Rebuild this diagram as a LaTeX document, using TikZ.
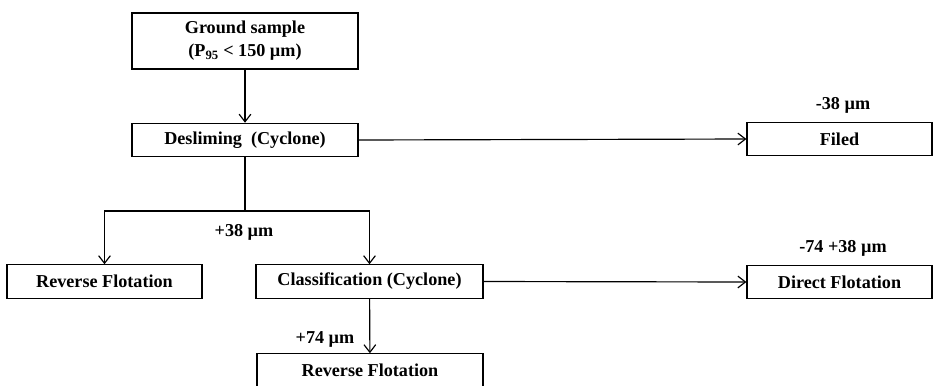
\documentclass[tikz,border=0pt]{standalone}
\usepackage{fontspec}
\setmainfont{Liberation Serif}
\usetikzlibrary{arrows.meta}
\tikzset{
	stage/.style={draw, line width=1pt, inner sep=0pt, minimum height=1cm, align=center, font=\fontsize{15.5}{19.5}\selectfont\bfseries},
	cut/.style={font=\fontsize{15.5}{19.5}\selectfont\bfseries},
	flow/.style={line width=1pt, -{Straight Barb[length=6.5pt, width=10pt]}}
}
\begin{document}
\begin{tikzpicture}[x=0.03cm, y=-0.03cm]
					\useasboundingbox (0,0) rectangle (933,385);
					\node [stage, minimum width=6.78cm, minimum height=1.68cm] (ground) at (245,41) {Ground sample\\(P\textsubscript{95} < 150 µm)};
					\node [stage, minimum width=6.78cm] (desliming) at (245,140) {Desliming\ \ (Cyclone)};
					\node [stage, minimum width=5.55cm] (filed) at (839.5,139) {Filed};
					\node [stage, minimum width=5.85cm] (reverseA) at (104.5,281.5) {Reverse Flotation};
					\node [stage, minimum width=6.81cm] (classif) at (369.5,281.5) {Classification (Cyclone)};
					\node [stage, minimum width=5.55cm] (direct) at (839.5,282) {Direct Flotation};
					\node [stage, minimum width=6.78cm] (reverseB) at (370,370.5) {Reverse Flotation};
					\coordinate (split) at (245,211);
					\node [cut] (fine) at (843,105) {-38 µm};
					\node [cut] (coarse) at (244,232) {+38 µm};
					\node [cut] (middle) at (843,248) {-74 +38 µm};
					\node [cut] (oversize) at (325,339) {+74 µm};
					\draw [flow] (ground) -- (desliming);
					\draw [flow] (desliming.east) -- (filed.west);
					\draw [line width=1pt] (desliming.south) -- (split);
					\draw [flow] (split) -| (reverseA.north);
					\draw [flow] (split) -| (classif.north);
					\draw [flow] (classif.east) -- (direct.west);
					\draw [flow] (classif) -- (reverseB);
				\end{tikzpicture}
\end{document}
